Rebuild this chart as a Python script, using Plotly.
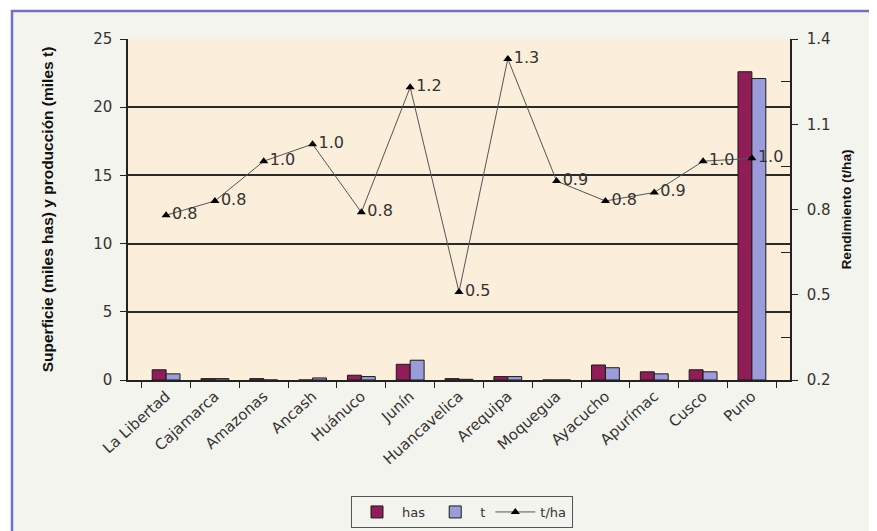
import plotly.graph_objects as go

regiones = ["La Libertad", "Cajamarca", "Amazonas", "Ancash", "Huánuco", "Junín",
            "Huancavelica", "Arequipa", "Moquegua", "Ayacucho", "Apurímac", "Cusco", "Puno"]
has = [0.75, 0.1, 0.1, 0.0, 0.35, 1.15, 0.1, 0.25, 0.0, 1.1, 0.6, 0.75, 22.6]
t = [0.45, 0.1, 0.0, 0.15, 0.25, 1.45, 0.05, 0.25, 0.0, 0.9, 0.45, 0.6, 22.1]
t_ha = [0.78, 0.83, 0.97, 1.03, 0.79, 1.23, 0.51, 1.33, 0.90, 0.83, 0.86, 0.97, 0.98]

OFF = 8  # default page body margin
W, H = 877 - OFF, 531 - OFF
# plot area in page pixels: x 128..790, y 39..380
L, T = 128 - OFF, 39 - OFF
R, B = W - (790 - OFF), H - (380 - OFF)
pw, ph = W - L - R, H - T - B

def px(x):
    return (x - OFF - L) / pw

def py(y):
    return (H - B - (y - OFF)) / ph

FONT = "DejaVu Sans, Verdana, sans-serif"
TFONT = "Liberation Sans, Arial, sans-serif"

fig = go.Figure()
fig.add_trace(go.Bar(x=regiones, y=has, name="has", marker=dict(color="#901C58", line=dict(color="#1a1a1a", width=1))))
fig.add_trace(go.Bar(x=regiones, y=t, name="t", marker=dict(color="#9C9CDC", line=dict(color="#1a1a1a", width=1))))
fig.add_trace(go.Scatter(x=regiones, y=t_ha, name="t/ha", yaxis="y2", mode="lines+markers+text",
                         line=dict(color="#555555", width=1),
                         marker=dict(symbol="triangle-up", size=8, color="#000000"),
                         text=[f"{v:.1f}" for v in t_ha], textposition="middle right",
                         textfont=dict(size=16, color="#333333", family=FONT)))

shapes = [
    dict(type="rect", xref="paper", yref="paper", x0=px(12), y0=py(560), x1=px(900), y1=py(11),
         fillcolor="#F4F4EE", line=dict(color="#7272C4", width=2.5), layer="below"),
    dict(type="rect", xref="paper", yref="paper", x0=0, y0=0, x1=1, y1=1,
         fillcolor="#FBEEDA", line=dict(width=0), layer="below"),
]

fig.update_layout(
    width=W, height=H,
    margin=dict(l=L, r=R, t=T, b=B, autoexpand=False),
    paper_bgcolor="white", plot_bgcolor="rgba(0,0,0,0)",
    font=dict(family=FONT, size=14, color="#333333"),
    barmode="group", bargap=0.43, bargroupgap=0,
    shapes=shapes,
    showlegend=True,
    legend=dict(orientation="h", x=px(462), xanchor="center", y=py(496), yanchor="top",
                bgcolor="#F4F4EE", bordercolor="#555555", borderwidth=1,
                font=dict(size=13, color="#333333", family=FONT), itemwidth=40, tracegroupgap=0),
    xaxis=dict(tickangle=-42, showline=True, linecolor="#222222", linewidth=1.5, automargin=False,
               ticks="outside", tickson="boundaries", ticklen=6, tickcolor="#222222",
               showgrid=False, tickfont=dict(size=15, color="#333333", family=FONT)),
    yaxis=dict(range=[0, 25], tickvals=[0, 5, 10, 15, 20, 25], showline=True, linecolor="#222222", linewidth=1.5,
               ticks="outside", ticklen=6, tickcolor="#222222", automargin=False, ticklabelstandoff=5,
               showgrid=True, gridcolor="#2a2a2a", gridwidth=1.5, zeroline=False,
               tickfont=dict(size=15, color="#333333", family=FONT),
               title=dict(text="<b>Superficie (miles has) y producción (miles t)</b>",
                          font=dict(size=15.5, color="#111111", family=TFONT), standoff=36)),
    yaxis2=dict(range=[0.2, 1.4], tickvals=[0.2, 0.5, 0.8, 1.1, 1.4], overlaying="y", side="right",
                showline=True, linecolor="#222222", linewidth=1.5, automargin=False, ticklabelstandoff=6,
                ticks="outside", ticklen=6, tickcolor="#222222", showgrid=False, zeroline=False,
                minor=dict(tick0=0.35, dtick=0.3, ticks="inside", ticklen=9, tickcolor="#222222", showgrid=False),
                tickfont=dict(size=15, color="#333333", family=FONT),
                title=dict(text="<b>Rendimiento (t/ha)</b>", font=dict(size=13.7, color="#111111", family=TFONT), standoff=12)),
)

fig.write_html("out.html")
